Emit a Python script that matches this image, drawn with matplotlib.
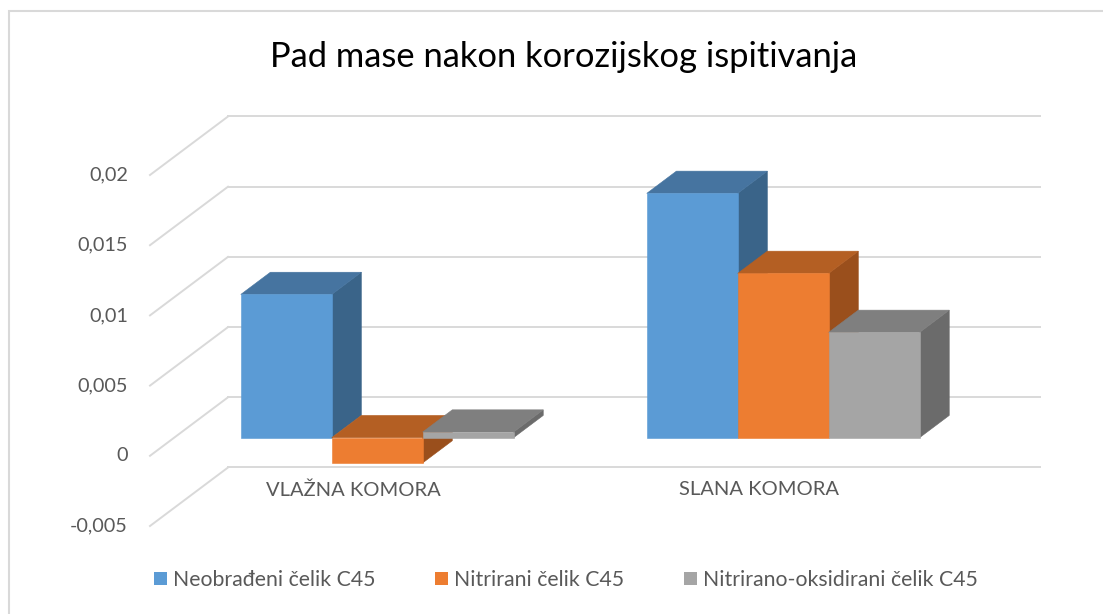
import matplotlib
matplotlib.use('Agg')
import matplotlib.pyplot as plt
from matplotlib.patches import Polygon, Patch, Rectangle

# data
categories = ['VLAŽNA KOMORA', 'SLANA KOMORA']
series_names = ['Neobrađeni čelik C45', 'Nitrirani čelik C45',
                'Nitrirano-oksidirani čelik C45']
neobradjeni = [0.0102, 0.0174]
nitrirani = [-0.0018, 0.0117]
nitr_oksid = [0.0004, 0.0075]
y_ticks = [-0.005, 0, 0.005, 0.01, 0.015, 0.02]
y_tick_labels = ['-0,005', '0', '0,005', '0,01', '0,015', '0,02']

front_colors = ['#5B9BD5', '#ED7D31', '#A5A5A5']
top_colors = ['#4674A0', '#B45F23', '#7F7F7F']
side_colors = ['#3A6489', '#9A4F1C', '#6B6B6B']
grid_color = '#D9D9D9'
text_color = '#595959'

plt.rcParams['font.family'] = ['Lato', 'DejaVu Sans']

W, H = 1103, 614
fig = plt.figure(figsize=(W / 100, H / 100), dpi=100)
# front plane of the fake 3d box
ax = fig.add_axes([150 / W, (H - 526) / H, 812 / W, 351 / H])
ax.set_xlim(-0.5, 1.5)
ax.set_ylim(-0.005, 0.02)
ax.axis('off')

# oblique offset for the full depth of the box (data units)
DX = 78 / 406
DY = 58.5 / 14040
D0, D1 = 0.31, 0.69   # bar front / back depth
BAR_W = 0.224


def P(x, y, d):
    return (x + d * DX, y + d * DY)


# back wall gridlines and left wall diagonals
for v in y_ticks:
    xs, ys = zip(P(-0.5, v, 1), P(1.5, v, 1))
    ax.plot(xs, ys, color=grid_color, lw=1.4, clip_on=False, zorder=1)
    xs, ys = zip(P(-0.5, v, 0), P(-0.5, v, 1))
    ax.plot(xs, ys, color=grid_color, lw=1.4, clip_on=False, zorder=1)

for v, lab in zip(y_ticks, y_tick_labels):
    ax.text(-0.5 - 22 / 406, v, lab, ha='right', va='center',
            fontsize=14.3, color=text_color)

series = [neobradjeni, nitrirani, nitr_oksid]
z = 2
for i, cat in enumerate(categories):
    start = i - 1.5 * BAR_W
    for j, vals in enumerate(series):
        v = vals[i]
        x0 = start + j * BAR_W
        x1 = x0 + BAR_W
        b, t = min(0, v), max(0, v)
        front = [P(x0, b, D0), P(x1, b, D0), P(x1, t, D0), P(x0, t, D0)]
        top = [P(x0, t, D0), P(x1, t, D0), P(x1, t, D1), P(x0, t, D1)]
        side = [P(x1, b, D0), P(x1, b, D1), P(x1, t, D1), P(x1, t, D0)]
        for poly, col in ((side, side_colors[j]), (top, top_colors[j]),
                          (front, front_colors[j])):
            ax.add_patch(Polygon(poly, closed=True, facecolor=col,
                                 edgecolor=col, lw=0.4, clip_on=False,
                                 zorder=z))
        z += 1
    ax.text(i, -0.00242, cat, ha='center', va='center',
            fontsize=14.5, color=text_color)

fig.text(563.5 / W, 1 - 57 / H, 'Pad mase nakon korozijskog ispitivanja',
         ha='center', va='center', fontsize=24.8, color='black')

handles = [Patch(facecolor=c, edgecolor='none') for c in front_colors]
leg = fig.legend(handles, series_names, ncol=3, loc='center',
                 bbox_to_anchor=(566 / W, 1 - 580 / H), frameon=False,
                 fontsize=15.3, handlelength=0.6, handleheight=0.6,
                 handletextpad=0.3, columnspacing=2.8)
for txt in leg.get_texts():
    txt.set_color(text_color)

# chart area border (only left and top edges are inside the picture)
fig.add_artist(Rectangle((8.5 / W, -0.1), 1.2, 1 - 11 / H + 0.1,
                         transform=fig.transFigure, fill=False,
                         edgecolor=grid_color, lw=1.5))

fig.savefig('out.png', dpi=100)
